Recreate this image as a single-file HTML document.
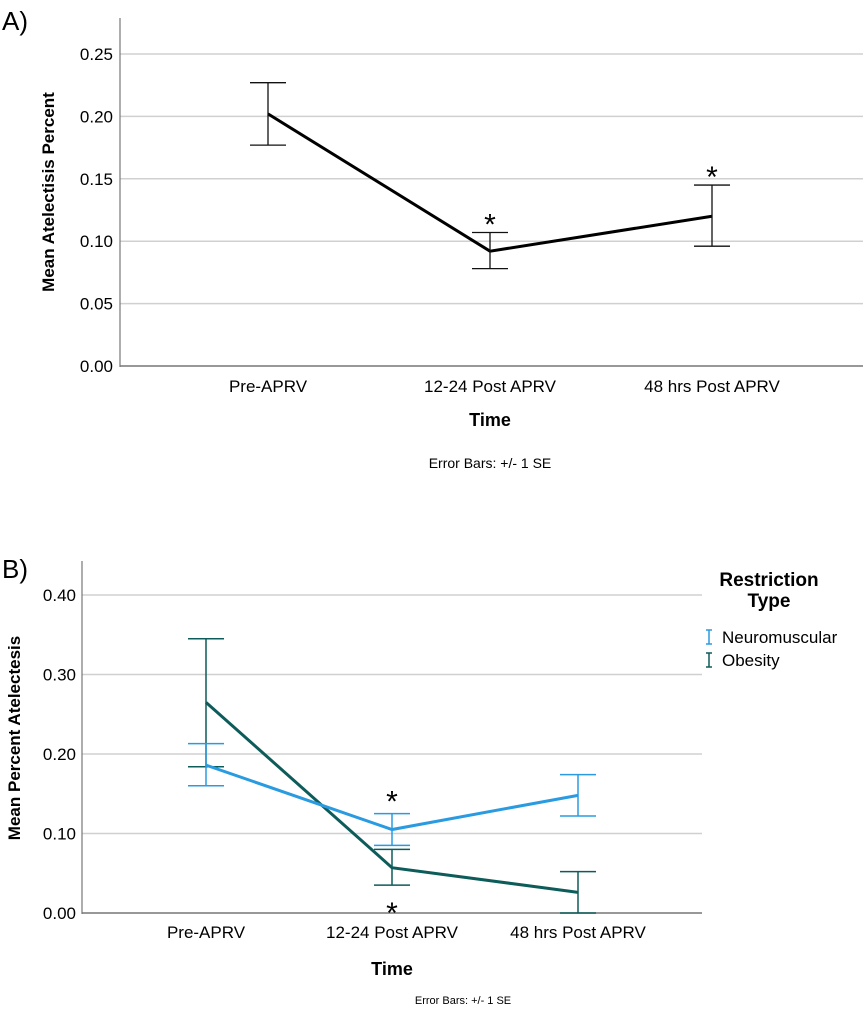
<!DOCTYPE html>
<html><head><meta charset="utf-8"><style>
body{margin:0;background:#fff;}
svg{display:block;font-family:"Liberation Sans",sans-serif;}
</style></head><body>
<svg id="chart" width="863" height="1009" xmlns="http://www.w3.org/2000/svg">
<text x="2" y="30" font-size="26">A)</text>
<text x="2" y="578" font-size="26">B)</text>
<g id="pa"></g>
<g id="pb"></g>
</svg>
<script>
const categories = ["Pre-APRV","12-24 Post APRV","48 hrs Post APRV"];
const aTicks = ["0.00","0.05","0.10","0.15","0.20","0.25"];
const aMean = [0.202,0.092,0.120];
const aLow = [0.177,0.078,0.096];
const aHigh = [0.227,0.107,0.145];
const bTicks = ["0.00","0.10","0.20","0.30","0.40"];
const neuroMean = [0.186,0.105,0.148];
const neuroLow = [0.160,0.085,0.122];
const neuroHigh = [0.213,0.125,0.174];
const obMean = [0.265,0.057,0.026];
const obLow = [0.184,0.035,0.000];
const obHigh = [0.345,0.080,0.052];

const NS="http://www.w3.org/2000/svg";
function mk(parent,tag,attrs,text){const e=document.createElementNS(NS,tag);for(const k in attrs)e.setAttribute(k,attrs[k]);if(text!==undefined)e.textContent=text;parent.appendChild(e);return e;}

// Panel A
const pa=document.getElementById('pa');
const ay=v=>366-v*(312/0.25);
const ax=i=>268+i*222;
aTicks.forEach(t=>{const v=parseFloat(t);
 if(v>0){const g=mk(pa,'line',{x1:120,x2:863,y1:ay(v),y2:ay(v),stroke:'#d0d0d0','stroke-width':1.5});
 
 }
 const l=mk(pa,'text',{x:113,y:ay(v)+6,'text-anchor':'end','font-size':17},t);
 
 });
let e=mk(pa,'line',{x1:120,x2:120,y1:18,y2:367,stroke:'#777','stroke-width':1.2});


e=mk(pa,'line',{x1:120,x2:863,y1:366,y2:366,stroke:'#777','stroke-width':1.5});


categories.forEach((c,i)=>{const t=mk(pa,'text',{x:ax(i),y:392,'text-anchor':'middle','font-size':17},c);
 
 });
e=mk(pa,'polyline',{points:aMean.map((v,i)=>ax(i)+','+ay(v)).join(' '),fill:'none',stroke:'#000','stroke-width':3});


aMean.forEach((v,i)=>{const g=mk(pa,'g',{stroke:'#111','stroke-width':1.3});
 
 
 mk(g,'line',{x1:ax(i),x2:ax(i),y1:ay(aLow[i]),y2:ay(aHigh[i])});
 mk(g,'line',{x1:ax(i)-18,x2:ax(i)+18,y1:ay(aLow[i]),y2:ay(aLow[i])});
 mk(g,'line',{x1:ax(i)-18,x2:ax(i)+18,y1:ay(aHigh[i]),y2:ay(aHigh[i])});});
[1,2].forEach(i=>{const s=mk(pa,'text',{x:ax(i),y:ay(aHigh[i])+2,'text-anchor':'middle','font-size':30},'*');
 
 });
e=mk(pa,'text',{x:0,y:0,transform:'translate(54,192) rotate(-90)','text-anchor':'middle','font-size':17,'font-weight':'bold'},'Mean Atelectisis Percent');


e=mk(pa,'text',{x:490,y:426,'text-anchor':'middle','font-size':18,'font-weight':'bold'},'Time');


e=mk(pa,'text',{x:490,y:468,'text-anchor':'middle','font-size':14},'Error Bars: +/- 1 SE');



// Panel B
const pb=document.getElementById('pb');
const by=v=>913-v*(318/0.40);
const bx=i=>206+i*186;
bTicks.forEach(t=>{const v=parseFloat(t);
 if(v>0){const g=mk(pb,'line',{x1:82,x2:702,y1:by(v),y2:by(v),stroke:'#d0d0d0','stroke-width':1.5});
 
 }
 const l=mk(pb,'text',{x:76,y:by(v)+6,'text-anchor':'end','font-size':17},t);
 
 });
e=mk(pb,'line',{x1:82,x2:82,y1:561,y2:914,stroke:'#777','stroke-width':1.2});


e=mk(pb,'line',{x1:82,x2:702,y1:913,y2:913,stroke:'#777','stroke-width':1.5});


categories.forEach((c,i)=>{const t=mk(pb,'text',{x:bx(i),y:938,'text-anchor':'middle','font-size':17},c);
 
 });
function series(mean,low,high,color,name){
 const p=mk(pb,'polyline',{points:mean.map((v,i)=>bx(i)+','+by(v)).join(' '),fill:'none',stroke:color,'stroke-width':3});
 
 
 mean.forEach((v,i)=>{const g=mk(pb,'g',{stroke:color,'stroke-width':1.5});
  
  
  mk(g,'line',{x1:bx(i),x2:bx(i),y1:by(low[i]),y2:by(high[i])});
  mk(g,'line',{x1:bx(i)-18,x2:bx(i)+18,y1:by(low[i]),y2:by(low[i])});
  mk(g,'line',{x1:bx(i)-18,x2:bx(i)+18,y1:by(high[i]),y2:by(high[i])});});
}
series(obMean,obLow,obHigh,'#0d5c5a','obesity');
series(neuroMean,neuroLow,neuroHigh,'#2a9be0','neuromuscular');
e=mk(pb,'text',{x:bx(1),y:by(neuroHigh[1])-2,'text-anchor':'middle','font-size':30},'*');


e=mk(pb,'text',{x:bx(1),y:by(obLow[1])+38,'text-anchor':'middle','font-size':30},'*');


e=mk(pb,'text',{x:0,y:0,transform:'translate(20,738) rotate(-90)','text-anchor':'middle','font-size':17,'font-weight':'bold'},'Mean Percent Atelectesis');


e=mk(pb,'text',{x:392,y:975,'text-anchor':'middle','font-size':18,'font-weight':'bold'},'Time');


e=mk(pb,'text',{x:463,y:1004,'text-anchor':'middle','font-size':11},'Error Bars: +/- 1 SE');


const lg=mk(pb,'g',{});


mk(lg,'text',{x:769,y:586,'text-anchor':'middle','font-size':19,'font-weight':'bold'},'Restriction');
mk(lg,'text',{x:769,y:607,'text-anchor':'middle','font-size':19,'font-weight':'bold'},'Type');
[['Neuromuscular','#2a9be0',637],['Obesity','#0d5c5a',660]].forEach(([n,c,y])=>{
 const it=mk(lg,'g',{});
 
 
 const gi=mk(it,'g',{stroke:c,'stroke-width':1.5});
 mk(gi,'line',{x1:709,x2:709,y1:y-7,y2:y+7});
 mk(gi,'line',{x1:706,x2:712,y1:y-7,y2:y-7});
 mk(gi,'line',{x1:706,x2:712,y1:y+7,y2:y+7});
 mk(it,'text',{x:722,y:y+6,'font-size':17},n);
});
</script>
</body></html>
